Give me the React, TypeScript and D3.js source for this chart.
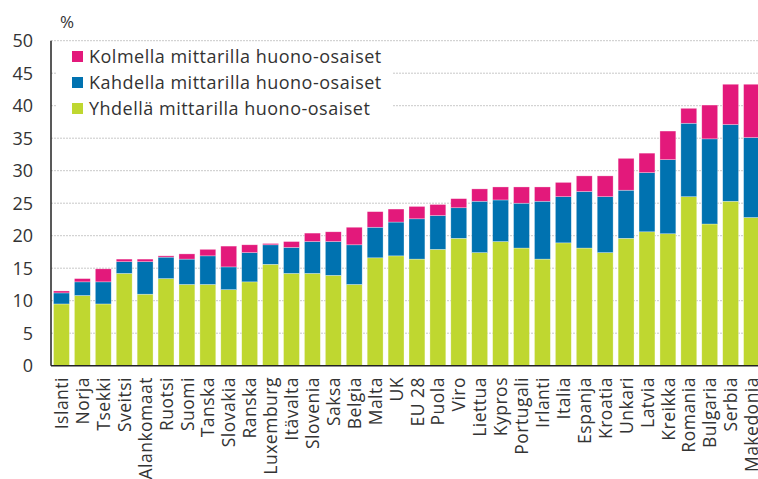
import { useEffect, useRef } from "react";
import * as d3 from "d3";

const countries = [
  "Islanti", "Norja", "Tsekki", "Sveitsi", "Alankomaat", "Ruotsi", "Suomi", "Tanska",
  "Slovakia", "Ranska", "Luxemburg", "Itävalta", "Slovenia", "Saksa", "Belgia", "Malta",
  "UK", "EU 28", "Puola", "Viro", "Liettua", "Kypros", "Portugali", "Irlanti", "Italia",
  "Espanja", "Kroatia", "Unkari", "Latvia", "Kreikka", "Romania", "Bulgaria", "Serbia",
  "Makedonia",
];

// Yhdellä mittarilla huono-osaiset
const yhdella = [
  9.5, 10.8, 9.5, 14.2, 11.0, 13.4, 12.5, 12.5, 11.7, 12.9, 15.6, 14.2, 14.2, 13.9, 12.5,
  16.6, 16.9, 16.4, 17.9, 19.6, 17.4, 19.1, 18.1, 16.4, 18.9, 18.1, 17.4, 19.6, 20.6, 20.3,
  26.0, 21.8, 25.3, 22.8,
];
// Kahdella mittarilla huono-osaiset
const kahdella = [
  1.7, 2.1, 3.4, 1.8, 5.0, 3.3, 3.9, 4.4, 3.5, 4.5, 3.0, 4.0, 4.9, 5.2, 6.1,
  4.7, 5.2, 6.2, 5.2, 4.7, 7.9, 6.4, 6.9, 8.9, 7.1, 8.7, 8.6, 7.4, 9.1, 11.4,
  11.3, 13.1, 11.8, 12.3,
];
// Kolmella mittarilla huono-osaiset
const kolmella = [
  0.3, 0.5, 2.0, 0.4, 0.4, 0.2, 0.8, 1.0, 3.2, 1.2, 0.2, 0.9, 1.3, 1.5, 2.7,
  2.4, 2.0, 1.9, 1.7, 1.4, 1.9, 2.0, 2.5, 2.2, 2.2, 2.4, 3.2, 4.9, 3.0, 4.4,
  2.3, 5.2, 6.2, 8.2,
];

const yTicks = [0, 5, 10, 15, 20, 25, 30, 35, 40, 45, 50];

const seriesKeys = ["yhdella", "kahdella", "kolmella"];
const seriesColors: Record<string, string> = {
  yhdella: "#bfd730",
  kahdella: "#0072b0",
  kolmella: "#e3197b",
};
const legendItems = [
  { key: "kolmella", label: "Kolmella mittarilla huono-osaiset" },
  { key: "kahdella", label: "Kahdella mittarilla huono-osaiset" },
  { key: "yhdella", label: "Yhdellä mittarilla huono-osaiset" },
];

const W = 758;
const H = 479;
const FONT = "'Open Sans', sans-serif";
const TEXT = "#333";

export default function App() {
  const ref = useRef<SVGSVGElement | null>(null);

  useEffect(() => {
    if (!ref.current) return;
    const svg = d3.select(ref.current);
    svg.selectAll("*").remove();

    const x0 = 51;
    const x1 = 762;
    const yBottom = 365.7;
    const yTop = 40.7;

    const x = d3.scaleBand<string>().domain(countries).range([x0, x1]).paddingInner(0.24).paddingOuter(0.12);
    const y = d3.scaleLinear().domain([0, 50]).range([yBottom, yTop]);

    const rows = countries.map((c, i) => ({
      country: c,
      yhdella: yhdella[i],
      kahdella: kahdella[i],
      kolmella: kolmella[i],
    }));

    // gridlines
    svg
      .append("g")
      .selectAll("line")
      .data(yTicks.filter((t) => t > 0))
      .enter()
      .append("line")
      .attr("x1", x0)
      .attr("x2", W)
      .attr("y1", (d) => y(d))
      .attr("y2", (d) => y(d))
      .attr("stroke", "#c9c9c9")
      .attr("stroke-width", 1)
      .attr("stroke-dasharray", "2,1");

    // legend background (covers gridlines)
    svg
      .append("rect")
      .attr("x", 56)
      .attr("y", 42)
      .attr("width", 336)
      .attr("height", 80)
      .attr("fill", "#fff");

    const stack = d3.stack<any>().keys(seriesKeys);
    const layers = stack(rows);

    svg
      .append("g")
      .selectAll("g")
      .data(layers)
      .enter()
      .append("g")
      .attr("fill", (d) => seriesColors[d.key])
      .selectAll("rect")
      .data((d) => d)
      .enter()
      .append("rect")
      .attr("x", (d) => x(d.data.country) as number)
      .attr("width", x.bandwidth())
      .attr("y", (d) => y(d[1]))
      .attr("height", (d) => y(d[0]) - y(d[1]))
      .attr("stroke", "#ffffff")
      .attr("stroke-opacity", 0.5)
      .attr("stroke-width", 0.6);

    // axes lines
    svg
      .append("line")
      .attr("x1", x0)
      .attr("x2", W)
      .attr("y1", yBottom)
      .attr("y2", yBottom)
      .attr("stroke", "#222")
      .attr("stroke-width", 1.5);
    svg
      .append("line")
      .attr("x1", x0)
      .attr("x2", x0)
      .attr("y1", yTop)
      .attr("y2", yBottom)
      .attr("stroke", "#222")
      .attr("stroke-width", 1.5);

    // y tick labels
    svg
      .append("g")
      .selectAll("text")
      .data(yTicks)
      .enter()
      .append("text")
      .attr("x", 33)
      .attr("y", (d) => y(d))
      .attr("dy", "0.35em")
      .attr("text-anchor", "end")
      .attr("font-family", FONT)
      .attr("font-size", 18)
      .attr("fill", TEXT)
      .text((d) => d);

    svg
      .append("text")
      .attr("x", 60)
      .attr("y", 28)
      .attr("font-family", FONT)
      .attr("font-size", 17)
      .attr("fill", TEXT)
      .text("%");

    // category labels
    svg
      .append("g")
      .selectAll("text")
      .data(countries)
      .enter()
      .append("text")
      .attr("transform", (d) => `translate(${(x(d) as number) + x.bandwidth() / 2 + 0.5},377) rotate(-90)`)
      .attr("dy", "0.35em")
      .attr("text-anchor", "end")
      .attr("font-family", FONT)
      .attr("font-size", 17.5)
      .attr("letter-spacing", 0.5)
      .attr("fill", TEXT)
      .text((d) => d);

    // legend
    const lg = svg
      .append("g")
      .selectAll("g")
      .data(legendItems)
      .enter()
      .append("g")
      .attr("transform", (_, i) => `translate(72,${51 + i * 26})`);
    lg.append("rect")
      .attr("width", 11)
      .attr("height", 11)
      .attr("fill", (d) => seriesColors[d.key]);
    lg.append("text")
      .attr("x", 17)
      .attr("y", 5.5)
      .attr("dy", "0.35em")
      .attr("font-family", FONT)
      .attr("font-size", 18)
      .attr("letter-spacing", 0.5)
      .attr("fill", TEXT)
      .text((d) => d.label);
  }, []);

  return (
    <div style={{ position: "absolute", left: 0, top: 0, width: W, height: H, background: "#fff" }}>
      <svg ref={ref} width={W} height={H} style={{ display: "block" }} />
    </div>
  );
}
